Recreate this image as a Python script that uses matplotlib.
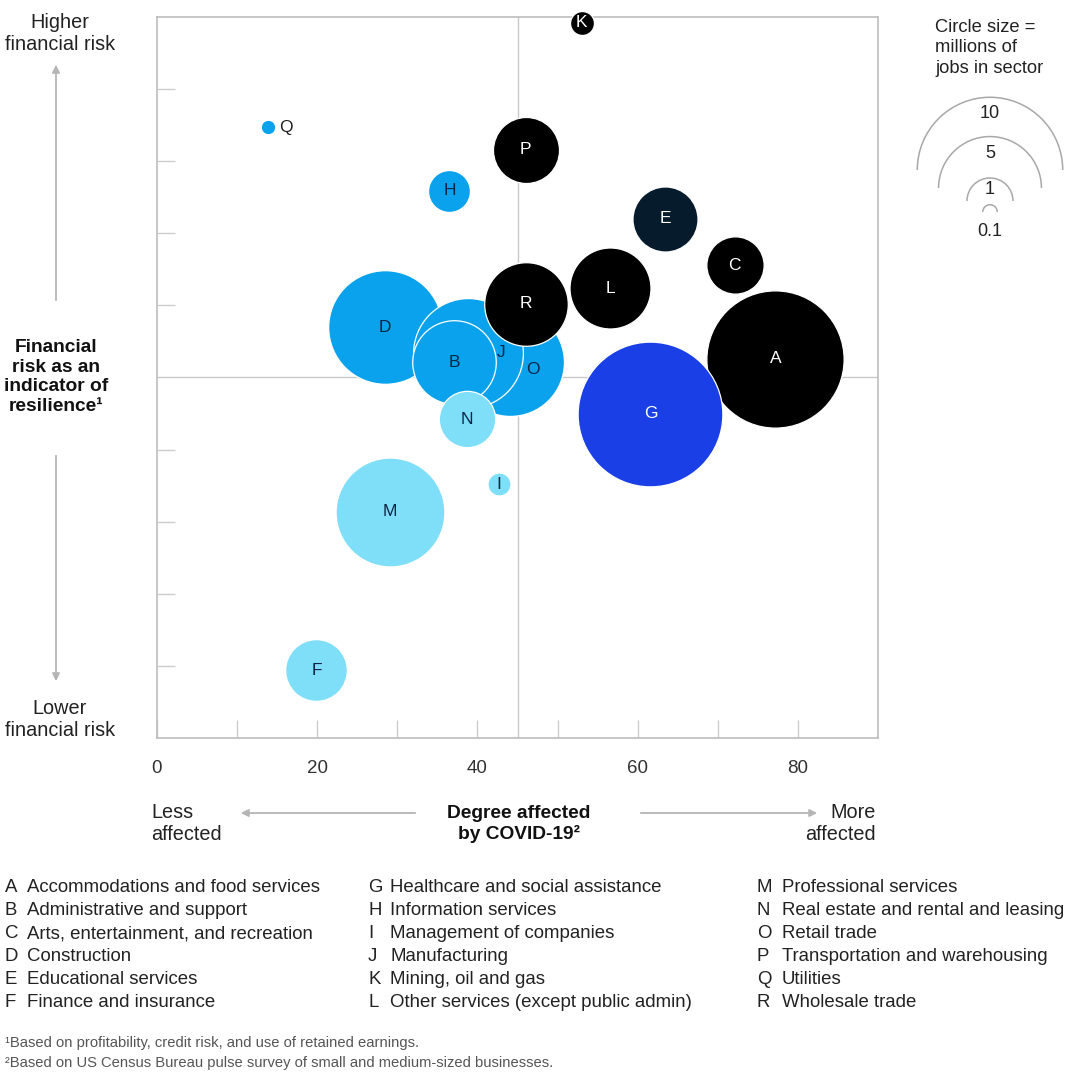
import numpy as np
import matplotlib
matplotlib.use("Agg")
import matplotlib.pyplot as plt
from matplotlib.patches import Arc

plt.rcParams['font.family'] = ['Liberation Sans', 'DejaVu Sans']

# sector data
letters = ['A', 'B', 'C', 'D', 'E', 'F', 'G', 'H', 'I',
           'J', 'K', 'L', 'M', 'N', 'O', 'P', 'Q', 'R']
sectors = ['Accommodations and food services', 'Administrative and support',
           'Arts, entertainment, and recreation', 'Construction',
           'Educational services', 'Finance and insurance',
           'Healthcare and social assistance', 'Information services',
           'Management of companies', 'Manufacturing', 'Mining, oil and gas',
           'Other services (except public admin)', 'Professional services',
           'Real estate and rental and leasing', 'Retail trade',
           'Transportation and warehousing', 'Utilities', 'Wholesale trade']
affected = [77.2, 37.1, 72.1, 28.4, 63.4, 19.9, 61.6, 36.5, 42.7,
            38.8, 53.0, 56.6, 29.1, 38.7, 44.1, 46.0, 13.9, 46.0]
fin_risk = [5.26, 5.21, 6.56, 5.70, 7.20, 0.94, 4.50, 7.59, 3.52,
            5.34, 9.92, 6.24, 3.14, 4.42, 5.21, 8.16, 8.47, 6.02]
jobs = [8.9, 3.3, 1.55, 6.1, 2.0, 1.8, 9.9, 0.83, 0.25,
        5.7, 0.27, 3.1, 5.6, 1.5, 5.5, 2.06, 0.1, 3.3]
group = ['black', 'blue', 'black', 'blue', 'navy', 'light', 'royal', 'blue', 'light',
         'blue', 'black', 'black', 'light', 'light', 'blue', 'black', 'blue', 'black']

legend_sizes = [10, 5, 1, 0.1]
legend_labels = ['10', '5', '1', '0.1']
x_ticks = [0, 20, 40, 60, 80]

fill = {'black': '#000000', 'blue': '#0AA2EC', 'light': '#80DFF8',
        'royal': '#1B3FE6', 'navy': '#061C2C'}
txt = {'black': 'white', 'blue': '#0B2545', 'light': '#0B2545',
       'royal': 'white', 'navy': 'white'}

W, H = 1080, 1087
fig = plt.figure(figsize=(W / 100, H / 100), dpi=100)
ax = fig.add_axes([157 / W, 1 - 738 / H, 721 / W, 721 / H])

PX = 23.0  # pixel radius of a 1 million jobs circle


def size_pts(v):
    r = PX * np.sqrt(v) * 0.72
    return (2 * r) ** 2


ax.set_xlim(0, 90)
ax.set_ylim(0, 10)
ax.axvline(45, color='#c9c9c9', lw=1, zorder=0)
ax.axhline(5, color='#c9c9c9', lw=1, zorder=0)

order = ['D', 'O', 'J', 'B', 'N', 'M', 'I', 'F', 'H', 'Q',
         'A', 'G', 'E', 'C', 'L', 'R', 'P', 'K']
offsets = {'J': (24, 0), 'O': (16, -5)}
for z, key in enumerate(order):
    i = letters.index(key)
    g = group[i]
    ax.scatter(affected[i], fin_risk[i], s=size_pts(jobs[i]), color=fill[g],
               edgecolors='white', linewidths=0.9, zorder=2 + z, clip_on=False)
    if key == 'Q':
        ax.annotate(key, (affected[i], fin_risk[i]), xytext=(8, 0),
                    textcoords='offset points', ha='left', va='center',
                    fontsize=12.5, color='#222222', zorder=40)
    else:
        dx, dy = offsets.get(key, (0, 0))
        ax.annotate(key, (affected[i], fin_risk[i]), xytext=(dx, dy),
                    textcoords='offset points', ha='center', va='center',
                    fontsize=12.5, color=txt[g], zorder=40, annotation_clip=False)

for s in ax.spines.values():
    s.set_color('#bdbdbd')
    s.set_linewidth(1.2)
ax.set_xticks(x_ticks)
ax.set_xticks([10, 30, 50, 70], minor=True)
ax.set_xticklabels([str(t) for t in x_ticks])
ax.set_yticks([1, 2, 3, 4, 6, 7, 8, 9])
ax.set_yticklabels([])
ax.tick_params(which='both', direction='in', length=13, width=1, color='#cccccc',
               labelsize=13.5, labelcolor='#333333', pad=16)

# overlay in pixel coordinates for all the annotation text
ov = fig.add_axes([0, 0, 1, 1], zorder=5)
ov.set_xlim(0, W)
ov.set_ylim(H, 0)
ov.axis('off')
ov.patch.set_alpha(0)

grey = '#b5b5b5'
ov.text(60, 34, 'Higher\nfinancial risk', ha='center', va='center',
        fontsize=14.3, color='#222222', linespacing=1.2)
ov.text(60, 720, 'Lower\nfinancial risk', ha='center', va='center',
        fontsize=14.3, color='#222222', linespacing=1.2)
ov.text(56, 377, 'Financial\nrisk as an\nindicator of\nresilience\u00b9', ha='center',
        va='center', fontsize=13.8, fontweight='bold', color='#111111',
        linespacing=1.2)
ov.annotate('', xy=(56, 62), xytext=(56, 303),
            arrowprops=dict(arrowstyle='-|>', color=grey, lw=1.3, mutation_scale=11))
ov.annotate('', xy=(56, 684), xytext=(56, 453),
            arrowprops=dict(arrowstyle='-|>', color=grey, lw=1.3, mutation_scale=11))

ov.text(519, 824, 'Degree affected\nby COVID-19\u00b2', ha='center', va='center',
        fontsize=13.8, fontweight='bold', color='#111111', linespacing=1.2)
ov.text(151, 824, 'Less\naffected', ha='left', va='center', fontsize=14.3,
        color='#222222', linespacing=1.2)
ov.text(876, 824, 'More\naffected', ha='right', va='center', fontsize=14.3,
        color='#222222', linespacing=1.2)
ov.annotate('', xy=(238, 813), xytext=(418, 813),
            arrowprops=dict(arrowstyle='-|>', color=grey, lw=1.3, mutation_scale=11))
ov.annotate('', xy=(820, 813), xytext=(638, 813),
            arrowprops=dict(arrowstyle='-|>', color=grey, lw=1.3, mutation_scale=11))

# circle size legend
ov.text(935, 48, 'Circle size =\nmillions of\njobs in sector', ha='left', va='center',
        fontsize=13.2, color='#222222', linespacing=1.3)
arc_cy = [170, 188, 201, 212]
lab_y = [113, 153, 190, 231]
for v, lab, cy, ly in zip(legend_sizes, legend_labels, arc_cy, lab_y):
    r = PX * np.sqrt(v)
    ov.add_patch(Arc((990, cy), 2 * r, 2 * r, theta1=180, theta2=360,
                     color='#a8a8a8', lw=1.1))
    ov.text(990, ly, lab, ha='center', va='center', fontsize=13, color='#222222')

# sector key
cols = [(5, 27), (368, 390), (757, 782)]
for i, (let, name) in enumerate(zip(letters, sectors)):
    c, row = divmod(i, 6)
    y = 886 + row * 22.9
    ov.text(cols[c][0], y, let, ha='left', va='center_baseline', fontsize=13.4,
            color='#222222')
    ov.text(cols[c][1], y, name, ha='left', va='center_baseline', fontsize=13.4,
            color='#222222')

ov.text(5, 1043, '\u00b9Based on profitability, credit risk, and use of retained earnings.',
        ha='left', va='center', fontsize=10.6, color='#555555')
ov.text(5, 1063, '\u00b2Based on US Census Bureau pulse survey of small and medium-sized businesses.',
        ha='left', va='center', fontsize=10.6, color='#555555')

fig.savefig('out.png', dpi=100, facecolor='white')
